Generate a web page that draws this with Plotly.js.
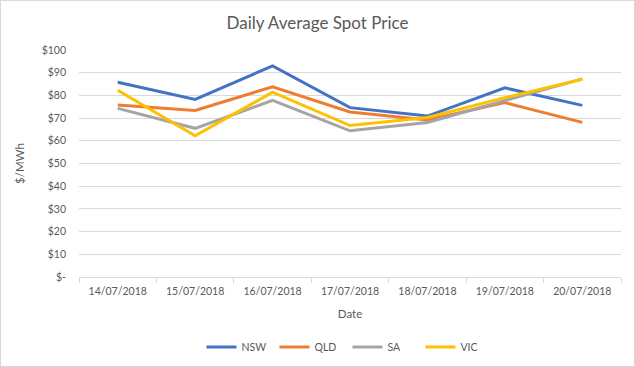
<!DOCTYPE html>
<html><head><meta charset="utf-8">
<script src="https://cdn.plot.ly/plotly-3.0.1.min.js"></script>
<style>html,body{margin:0;padding:0;background:#fff}#c{width:633px;height:365px;border:1px solid #d9d9d9}</style>
</head><body><div id="c"></div>
<script>
const dates = ["14/07/2018","15/07/2018","16/07/2018","17/07/2018","18/07/2018","19/07/2018","20/07/2018"];
const nsw = [85.8, 78.2, 93.0, 74.6, 70.9, 83.3, 75.6];
const qld = [75.8, 73.4, 83.8, 72.7, 69.2, 76.8, 68.1];
const sa  = [74.3, 65.5, 77.8, 64.4, 68.1, 77.8, 87.3];
const vic = [82.3, 62.2, 81.4, 66.7, 70.3, 79.0, 87.1];
const yTickVals = [0,10,20,30,40,50,60,70,80,90,100];
const yTickText = ["$-","$10","$20","$30","$40","$50","$60","$70","$80","$90","$100"];
const series = [["NSW", nsw, "#4472C4"], ["QLD", qld, "#ED7D31"], ["SA", sa, "#A5A5A5"], ["VIC", vic, "#FFC000"]];
const traces = series.map(([n, v, c]) => ({x: dates, y: v, name: n, type: "scatter", mode: "lines", line: {color: c, width: 3}}));
const font = {family: "Lato, 'Open Sans', sans-serif", color: "#595959", size: 10};
Plotly.newPlot("c", traces, {
  width: 633, height: 365,
  margin: {l: 78, r: 13, t: 49, b: 89, autoexpand: false},
  paper_bgcolor: "#fff", plot_bgcolor: "#fff",
  font: font,
  title: {text: "Daily Average Spot Price", font: {family: "Lato, sans-serif", size: 17, color: "#595959"}, x: 0.5, xanchor: "center", y: 0.94, yanchor: "middle"},
  xaxis: {type: "category", range: [-0.5, 6.5], automargin: false, showgrid: false, showline: true, linecolor: "#d9d9d9", ticks: "outside", tickson: "boundaries", ticklen: 5, tickcolor: "#d9d9d9", ticklabelstandoff: 4, tickfont: {size: 10.5, color: "#595959"}, title: {text: "Date", font: {size: 11.5, color: "#595959"}, standoff: 14}},
  yaxis: {range: [0, 100], automargin: false, tickvals: yTickVals, ticktext: yTickText, showgrid: true, gridcolor: "#d9d9d9", zeroline: false, showline: false, ticks: "", ticklabelstandoff: 12, tickfont: {size: 10.5, color: "#595959"}, title: {text: "$/MWh", font: {size: 11.5, color: "#595959"}, standoff: 14}},
  legend: {orientation: "h", x: 0.226, xanchor: "left", yref: "container", y: 0.052, yanchor: "middle", font: {size: 10.5, color: "#595959"}, itemwidth: 30, entrywidth: 28},
  showlegend: true
}, {displayModeBar: false, staticPlot: true});
</script></body></html>
